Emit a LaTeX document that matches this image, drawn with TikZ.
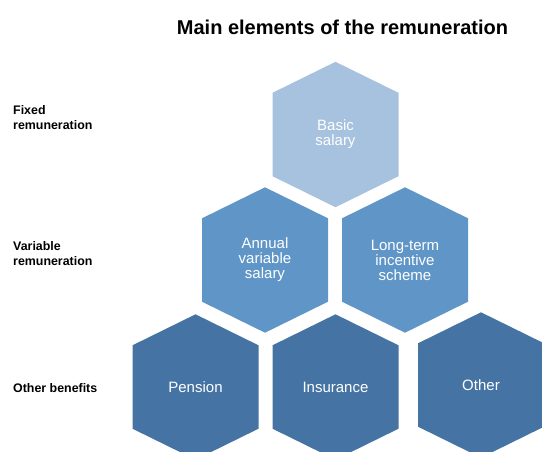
\documentclass[tikz,border=0pt]{standalone}
\usepackage{fontspec}
\setmainfont{Liberation Sans}
\usepackage{xcolor}
\definecolor{hexlight}{RGB}{166,194,222}
\definecolor{hexmid}{RGB}{96,150,199}
\definecolor{hexdark}{RGB}{69,116,164}
\newcommand{\hexfill}[2]{\fill[#1] (#2) +(0,-72.7) -- +(63,-41.7) -- +(63,41.7) -- +(0,72.7) -- +(-63,41.7) -- +(-63,-41.7) -- cycle;}

\begin{document}
\begin{tikzpicture}[x=1pt,y=-1pt]
  \tikzstyle{hex text}=[text=white,align=center,inner sep=0,font=\fontsize{15}{15}\selectfont]
  \tikzstyle{row label}=[anchor=north west,align=left,inner sep=0,font=\bfseries\fontsize{12.4}{15}\selectfont]
  \useasboundingbox (0,0) rectangle (542,451);
  \coordinate (basic) at (335.5,134.5);
  \coordinate (annual) at (265,260);
  \coordinate (lti) at (405,260);
  \coordinate (pension) at (195.5,387);
  \coordinate (insurance) at (335.5,387);
  \coordinate (other) at (481,385);
  \hexfill{hexlight}{basic}
  \hexfill{hexmid}{annual}
  \hexfill{hexmid}{lti}
  \hexfill{hexdark}{pension}
  \hexfill{hexdark}{insurance}
  \hexfill{hexdark}{other}
  \node(basic text)[hex text] at (basic){Basic\\salary};
  \node(annual text)[hex text] at (annual){Annual\\variable\\salary};
  \node(lti text)[hex text] at (lti){Long-term\\incentive\\scheme};
  \node(pension text)[hex text] at (pension){Pension};
  \node(insurance text)[hex text] at (insurance){Insurance};
  \node(other text)[hex text] at (other){Other};
  \node(title)[anchor=base,font=\bfseries\fontsize{20}{20}\selectfont] at (342.5,34.5){Main elements of the remuneration};
  \node(fixed)[row label] at (13,105.2){Fixed\\remuneration};
  \node(variable)[row label] at (13,241.5){Variable\\remuneration};
  \node(benefits)[row label] at (13,383.5){Other benefits};
\end{tikzpicture}
\end{document}
